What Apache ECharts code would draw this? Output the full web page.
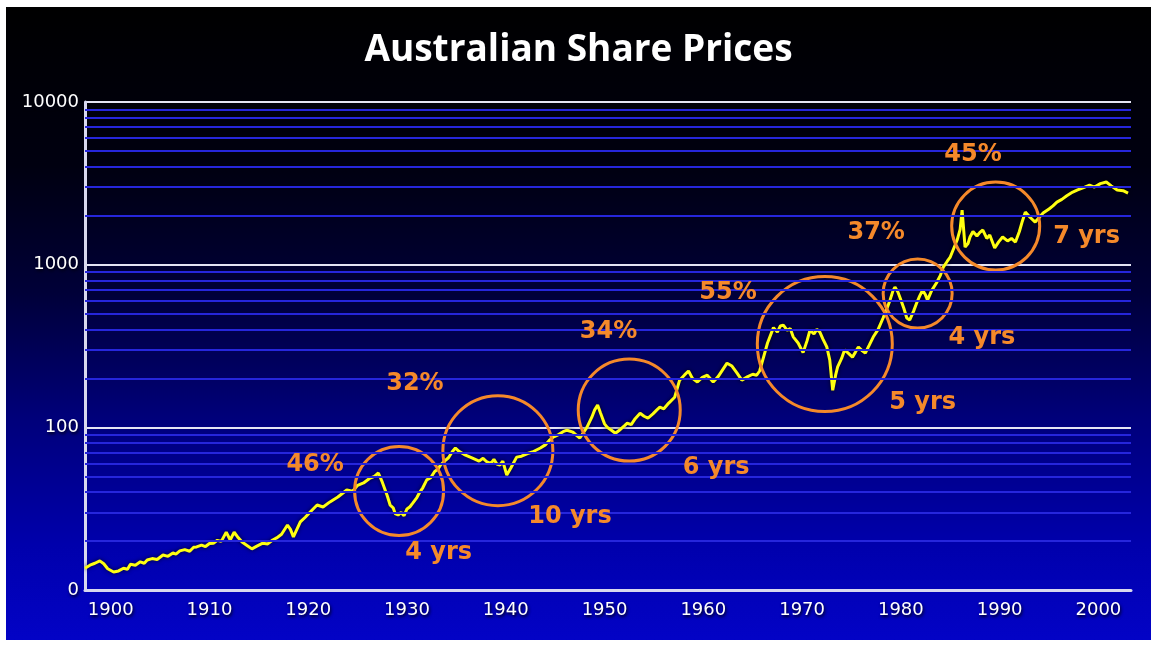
<!DOCTYPE html>
<html><head><meta charset="utf-8">
<script src="https://cdn.jsdelivr.net/npm/echarts@6/dist/echarts.min.js"></script>
<style>
html,body{margin:0;padding:0;background:#fff;width:1151px;height:645px;overflow:hidden}
#c{position:absolute;left:6px;top:7px;width:1145px;height:633px}
</style>
</head><body><div id="c"></div>
<script>
// ---- data ----
const years = [1897.4,1897.9,1898.4,1898.9,1899.3,1899.7,1900.3,1900.8,1901.3,1901.7,1902.0,1902.5,1903.0,1903.4,1903.7,1904.2,1904.7,1905.3,1905.8,1906.3,1906.6,1907.0,1907.5,1908.0,1908.4,1908.7,1909.2,1909.6,1910.0,1910.4,1910.8,1911.2,1911.7,1912.1,1912.5,1912.9,1913.3,1913.8,1914.3,1914.8,1915.4,1915.9,1916.4,1916.8,1917.3,1917.9,1918.2,1918.5,1919.2,1919.7,1920.3,1920.9,1921.5,1922.2,1923.0,1923.9,1924.5,1925.0,1925.6,1926.2,1926.7,1927.1,1927.5,1928.0,1928.3,1928.6,1928.8,1929.1,1929.4,1929.7,1930.0,1930.3,1930.6,1931.0,1931.3,1931.6,1932.0,1932.4,1932.8,1933.1,1933.4,1933.8,1934.2,1934.6,1934.9,1935.3,1935.8,1936.4,1936.8,1937.3,1937.7,1938.1,1938.5,1938.8,1939.1,1939.4,1939.7,1940.1,1940.5,1941.1,1941.6,1942.2,1942.7,1943.5,1944.0,1944.4,1944.8,1945.3,1945.8,1946.2,1946.8,1947.1,1947.5,1948.2,1948.7,1949.0,1949.3,1949.6,1950.0,1950.3,1950.7,1951.1,1951.6,1952.0,1952.3,1952.7,1953.1,1953.6,1954.0,1954.4,1954.9,1955.3,1955.6,1956.0,1956.5,1957.1,1957.6,1958.1,1958.5,1958.9,1959.4,1959.9,1960.4,1961.0,1961.5,1962.0,1962.4,1962.9,1963.4,1963.9,1964.5,1965.0,1965.4,1965.7,1966.1,1966.5,1967.1,1967.5,1967.8,1968.1,1968.5,1968.8,1969.1,1969.6,1970.1,1970.5,1970.8,1971.2,1971.5,1971.8,1972.1,1972.5,1972.8,1973.1,1973.4,1973.6,1974.0,1974.3,1974.7,1975.1,1975.4,1975.7,1976.1,1976.4,1976.8,1977.2,1977.7,1978.2,1978.6,1978.9,1979.2,1979.4,1979.7,1979.9,1980.3,1980.6,1980.9,1981.3,1981.6,1981.9,1982.2,1982.5,1982.7,1983.1,1983.6,1984.0,1984.3,1984.7,1985.0,1985.4,1985.7,1986.0,1986.2,1986.5,1986.8,1987.0,1987.3,1987.7,1988.0,1988.3,1988.7,1989.0,1989.5,1989.9,1990.3,1990.8,1991.2,1991.6,1992.0,1992.3,1992.6,1993.1,1993.6,1994.0,1994.4,1995.0,1995.4,1995.8,1996.3,1996.8,1997.4,1997.9,1998.5,1999.1,1999.6,2000.2,2000.8,2001.3,2001.9,2002.5,2003.0];
const prices = [13.6,14.2,14.6,15.1,14.5,13.5,12.9,13.1,13.6,13.4,14.4,14.2,14.9,14.6,15.3,15.6,15.4,16.4,16.1,16.9,16.6,17.4,17.7,17.3,18.3,18.4,18.9,18.5,19.3,19.4,20.2,19.9,22.7,20.3,22.7,21.0,19.7,18.8,17.9,18.6,19.4,19.2,20.3,20.9,22.0,25.1,23.6,21.2,26.2,28.0,30.6,33.3,32.4,34.8,37.3,41.2,40.5,44.0,45.5,48.5,50.0,52.4,46.0,38.0,33.2,32.0,29.5,28.9,30.0,28.6,31.5,32.5,34.3,37.0,40.0,42.5,47.5,49.0,53.5,55.0,58.7,62.0,65.0,71.0,74.6,71.0,68.0,65.6,64.0,62.0,64.5,61.2,60.0,63.5,59.5,58.7,62.0,50.9,56.0,65.6,66.5,69.0,70.5,74.6,78.0,83.0,87.0,90.0,94.0,96.0,93.5,90.0,86.0,99.6,115,128,137,122,105,99.6,96,92,97,102,106,104,113,122,117,114,121,128,133,130,141,153,195,210,222,200,190,203,209,190,205,228,248,238,216,195,205,212,209,222,270,330,410,385,420,425,395,405,360,330,288,340,396,375,400,385,350,312,260,169,210,235,265,299,285,270,290,312,295,286,320,359,400,470,540,605,690,728,680,631,540,470,457,520,581,640,698,650,605,690,771,860,967,1050,1114,1280,1417,1650,2166,1283,1350,1480,1600,1500,1580,1633,1450,1520,1265,1380,1479,1400,1450,1377,1600,1850,2104,1950,1828,1950,2075,2200,2300,2425,2520,2650,2794,2880,2980,3083,3000,3150,3221,3050,2875,2850,2754];

const xTickYears = [1900,1910,1920,1930,1940,1950,1960,1970,1980,1990,2000];
const yTickLabels = {10:'0',100:'100',1000:'1000',10000:'10000'};
const minorGridValues = [20,30,40,50,60,70,80,90,200,300,400,500,600,700,800,900,2000,3000,4000,5000,6000,7000,8000,9000];

const crashYears  = [1929.2, 1939.2, 1952.5, 1972.3, 1981.7, 1989.6];
const crashValues = [40.6, 71.9, 127.7, 325, 664, 1727];
const fallLabels  = ['46%','32%','34%','55%','37%','45%'];
const fallYears   = [1920.7, 1930.8, 1950.4, 1962.5, 1977.5, 1987.3];
const fallValues  = [58.7, 184.6, 385, 668.8, 1564, 4718];
const recoveryLabels = ['4 yrs','10 yrs','6 yrs','5 yrs','4 yrs','7 yrs'];
const recoveryYears  = [1933.2, 1946.5, 1961.3, 1982.2, 1988.2, 1998.8];
const recoveryValues = [16.9, 28.1, 56.2, 141, 354, 1479];

// ---- styles ----
const circleDiameters = [89, 110, 102, 135, 69, 88];
const ORANGE = '#f5892a';
const annotFont = {color: ORANGE, fontSize: 24, fontWeight: 'bold', fontFamily: 'DejaVu Sans',
  textBorderWidth: 0, opacity: 1};
const tickFont = {color: '#ffffff', fontSize: 18, fontFamily: 'DejaVu Sans',
  textShadowColor: 'rgba(0,0,20,1)', textShadowBlur: 3, textShadowOffsetX: 1, textShadowOffsetY: 2};

const chart = echarts.init(document.getElementById('c'));
chart.setOption({
  animation: false,
  backgroundColor: {type: 'linear', x: 0, y: 0, x2: 0, y2: 1, colorStops: [
    {offset: 0, color: '#000000'}, {offset: 0.25, color: '#000010'},
    {offset: 0.45, color: '#000038'}, {offset: 0.65, color: '#00007a'},
    {offset: 0.85, color: '#0000ac'}, {offset: 1, color: '#0303c6'}]},
  title: {text: 'Australian Share Prices', left: 'center', top: 20,
    textStyle: {color: '#ffffff', fontSize: 37, fontWeight: 'bold', fontFamily: 'Open Sans'}},
  grid: {left: 79, right: 20, top: 95, bottom: 50},
  xAxis: {type: 'value', min: 1897.4, max: 2003.3, splitNumber: 10,
    axisLine: {lineStyle: {color: '#d8d8ee', width: 3}},
    axisTick: {show: false}, splitLine: {show: false},
    axisLabel: Object.assign({customValues: xTickYears, margin: 11,
      formatter: v => String(Math.round(v))}, tickFont)},
  yAxis: {type: 'log', logBase: 10, min: 10, max: 10000,
    axisLine: {show: true, lineStyle: {color: '#d8d8ee', width: 3}},
    axisTick: {show: false},
    splitLine: {show: true, lineStyle: {color: '#e4e4f4', width: 2}},
    axisLabel: Object.assign({margin: 6,
      formatter: v => yTickLabels[Math.round(v)] || ''}, tickFont)},
  series: [
    {type: 'line', data: [], z: 1, silent: true,
      markLine: {silent: true, symbol: ['none', 'none'], label: {show: false},
        lineStyle: {color: '#2626dc', width: 2, type: 'solid'},
        data: minorGridValues.map(v => ({yAxis: v}))}},
    {type: 'line', data: years.map((y, i) => [y, prices[i]]), z: 3,
      showSymbol: false, symbol: 'none',
      lineStyle: {color: '#ffff10', width: 3, shadowColor: 'rgba(0,0,0,0.75)', shadowBlur: 4}},
    {type: 'scatter', z: 4, silent: true,
      data: crashYears.map((y, i) => [y, crashValues[i]]),
      symbol: 'circle',
      symbolSize: (val, p) => circleDiameters[p.dataIndex],
      itemStyle: {color: 'rgba(0,0,0,0)', borderColor: ORANGE, borderWidth: 3, opacity: 1}},
    {type: 'scatter', z: 5, silent: true, symbolSize: 1,
      itemStyle: {color: 'rgba(0,0,0,0)', opacity: 1},
      data: fallYears.map((y, i) => [y, fallValues[i]]),
      label: Object.assign({show: true, position: 'inside',
        formatter: p => fallLabels[p.dataIndex]}, annotFont)},
    {type: 'scatter', z: 5, silent: true, symbolSize: 1,
      itemStyle: {color: 'rgba(0,0,0,0)', opacity: 1},
      data: recoveryYears.map((y, i) => [y, recoveryValues[i]]),
      label: Object.assign({show: true, position: 'inside',
        formatter: p => recoveryLabels[p.dataIndex]}, annotFont)}
  ]
});
</script></body></html>
